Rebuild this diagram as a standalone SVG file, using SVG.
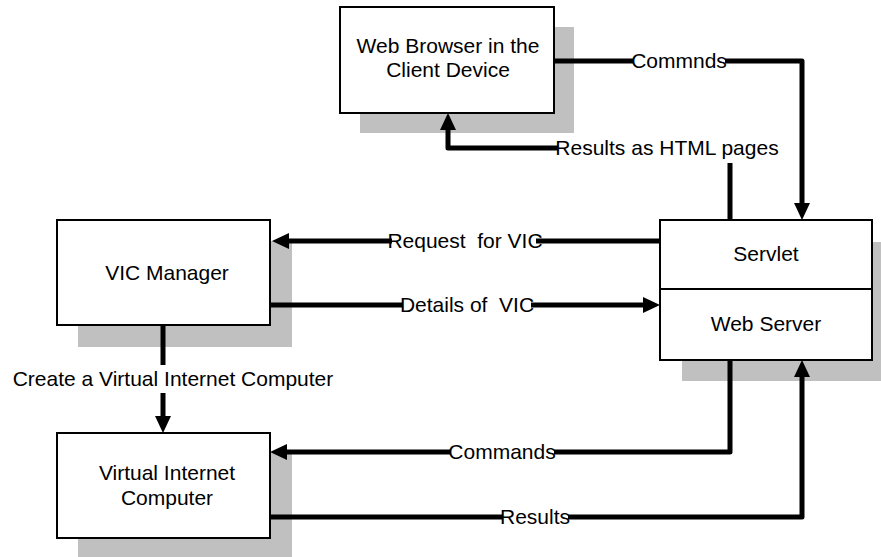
<svg xmlns="http://www.w3.org/2000/svg" width="881" height="557" viewBox="0 0 881 557">
<style>
.shadow{fill:#c0c0c0;stroke:none}
.box{fill:#fff;stroke:#000;stroke-width:2}
.t{font-family:"Liberation Sans",Arial,sans-serif;font-size:21px;fill:#000;text-anchor:middle}
.conn{fill:none;stroke:#000;stroke-width:5;stroke-linejoin:round}
.lbg{fill:#fff;stroke:none}
</style>
<defs>
<marker id="ah" viewBox="0 0 17 16" refX="0" refY="8" markerWidth="17" markerHeight="16" markerUnits="userSpaceOnUse" orient="auto">
<path d="M0,0 L17,8 L0,16 z" fill="#000"/>
</marker>
</defs>
<rect width="881" height="557" fill="#fff"/>

<g id="web-browser">
<rect class="shadow" x="360" y="27" width="214" height="106"/>
<rect class="box" x="340" y="7" width="214" height="106"/>
<text class="t" x="448" y="53">Web Browser in the</text>
<text class="t" x="448" y="77">Client Device</text>
</g>

<g id="vic-manager">
<rect class="shadow" x="78" y="241" width="214" height="106"/>
<rect class="box" x="57" y="220" width="213" height="105"/>
<text class="t" x="167" y="280">VIC Manager</text>
</g>

<g id="servlet-webserver">
<rect class="shadow" x="682" y="242" width="199" height="139"/>
<rect class="box" x="660" y="220" width="212" height="140"/>
<line x1="660" y1="289" x2="872" y2="289" stroke="#000" stroke-width="2"/>
<text class="t" x="766" y="261">Servlet</text>
<text class="t" x="766" y="331">Web Server</text>
</g>

<g id="virtual-internet-computer">
<rect class="shadow" x="78" y="453" width="214" height="104"/>
<rect class="box" x="57" y="433" width="213" height="105"/>
<text class="t" x="167" y="480">Virtual Internet</text>
<text class="t" x="167" y="505">Computer</text>
</g>

<g id="connectors">
<path class="conn" d="M554,61 H802 V203" marker-end="url(#ah)"/>
<path class="conn" d="M730,220 V148 H448 V130" marker-end="url(#ah)"/>
<path class="conn" d="M660,241 H289" marker-end="url(#ah)"/>
<path class="conn" d="M270,305 H643" marker-end="url(#ah)"/>
<path class="conn" d="M163,325 V416" marker-end="url(#ah)"/>
<path class="conn" d="M730,360 V452 H287" marker-end="url(#ah)"/>
<path class="conn" d="M270,517 H802 V377" marker-end="url(#ah)"/>

<rect class="lbg" x="633" y="51" width="92" height="20"/>
<text class="t" x="679" y="68">Commnds</text>
<rect class="lbg" x="558" y="138" width="217" height="25"/>
<text class="t" x="667" y="155">Results as HTML pages</text>
<rect class="lbg" x="392" y="231" width="144" height="20"/>
<text class="t" x="465" y="248" xml:space="preserve">Request  for VIC</text>
<rect class="lbg" x="403" y="295" width="128" height="20"/>
<text class="t" x="467" y="312" xml:space="preserve">Details of  VIC</text>
<rect class="lbg" x="10" y="365" width="326" height="28"/>
<text class="t" x="173" y="386">Create a Virtual Internet Computer</text>
<rect class="lbg" x="450" y="442" width="104" height="20"/>
<text class="t" x="502" y="459">Commands</text>
<rect class="lbg" x="503" y="507" width="65" height="20"/>
<text class="t" x="535" y="524">Results</text>
</g>
</svg>
